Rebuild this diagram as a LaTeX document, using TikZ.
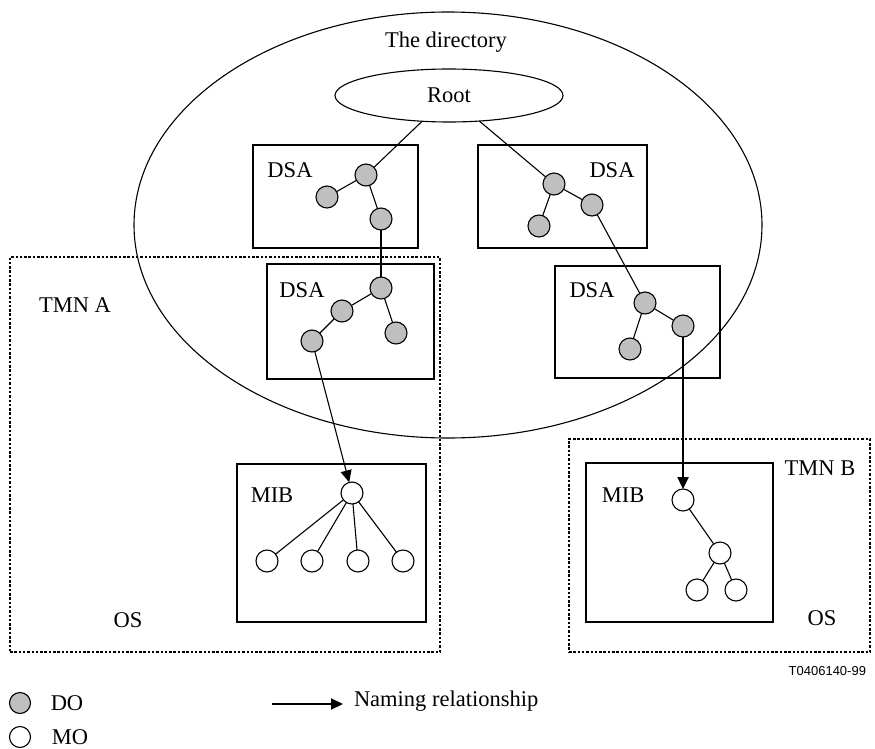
\documentclass[tikz,border=0pt]{standalone}
\usepackage{fontspec}
\setmainfont{Liberation Serif}
\newfontfamily\figsans{Liberation Sans}
\usetikzlibrary{shapes.geometric,arrows.meta}
\begin{document}
\begin{tikzpicture}[x=1pt,y=-1pt,
  line width=1.1pt,
  every node/.style={inner sep=0pt,outer sep=0pt},
  lbl/.style={font=\fontsize{22.5}{26}\selectfont},
  dobj/.style={circle,draw,fill=black!25,minimum size=22pt},
  mobj/.style={circle,draw,fill=white,minimum size=22pt},
  frame/.style={draw,rectangle},
  zone/.style={draw,rectangle,line width=2pt,dash pattern=on 2.5pt off 1.8pt},
  naming/.style={-{Triangle[length=12pt,width=11pt]}},
  link/.style={line width=1.1pt}
]
\useasboundingbox (0,0) rectangle (875,749);

% the directory
\node[draw,ellipse,minimum width=628pt,minimum height=426pt] (dir) at (448,225) {};
\node[lbl] (dirlbl) at (446,42) {The directory};
\node[draw,ellipse,minimum width=228pt,minimum height=53pt,lbl] (root) at (449,95.5) {Root};

% TMN domains
\node[zone,minimum width=430pt,minimum height=395pt] (tmna) at (225,454.5) {};
\node[lbl] (tmnalbl) at (75,305) {TMN A};
\node[lbl] (osa) at (128,620) {OS};
\node[zone,minimum width=301pt,minimum height=213pt] (tmnb) at (719.5,545.5) {};
\node[lbl] (tmnblbl) at (820,468) {TMN B};
\node[lbl] (osb) at (822,618) {OS};

% DSA boxes
\node[frame,minimum width=165pt,minimum height=103pt] (dsa1) at (335.5,196.5) {};
\node[lbl] (dsa1l) at (290,170) {DSA};
\node[frame,minimum width=169pt,minimum height=103pt] (dsa2) at (562.5,196.5) {};
\node[lbl] (dsa2l) at (612,170) {DSA};
\node[frame,minimum width=167pt,minimum height=115pt] (dsa3) at (350.5,321.5) {};
\node[lbl] (dsa3l) at (302,290) {DSA};
\node[frame,minimum width=165pt,minimum height=112pt] (dsa4) at (637.5,322) {};
\node[lbl] (dsa4l) at (592,290) {DSA};

% MIB boxes
\node[frame,minimum width=189pt,minimum height=158pt] (mib1) at (331.5,543) {};
\node[lbl] (mib1l) at (272,495) {MIB};
\node[frame,minimum width=187pt,minimum height=159pt] (mib2) at (679.5,542.5) {};
\node[lbl] (mib2l) at (623,495) {MIB};

% directory objects
\node[dobj] (a1) at (366,175) {};
\node[dobj] (a2) at (327,197) {};
\node[dobj] (a3) at (381,219) {};
\node[dobj] (b1) at (554,184) {};
\node[dobj] (b2) at (592,205) {};
\node[dobj] (b3) at (539,226) {};
\node[dobj] (d1) at (381,288) {};
\node[dobj] (d2) at (342,311) {};
\node[dobj] (d3) at (312,341) {};
\node[dobj] (d4) at (396,333) {};
\node[dobj] (c1) at (645,303) {};
\node[dobj] (c2) at (683,326) {};
\node[dobj] (c3) at (630,349) {};

% managed objects
\node[mobj] (m0) at (352,493) {};
\node[mobj] (m1) at (267,561) {};
\node[mobj] (m2) at (312,561) {};
\node[mobj] (m3) at (358,561) {};
\node[mobj] (m4) at (403,561) {};
\node[mobj] (n0) at (683,500) {};
\node[mobj] (n1) at (720,553) {};
\node[mobj] (n2) at (697,590) {};
\node[mobj] (n3) at (736,590) {};

% tree links
\draw[link] (root) -- (a1);
\draw[link] (root) -- (b1);
\draw[link] (a1) -- (a2);
\draw[link] (a1) -- (a3);
\draw[link] (a3) -- (d1);
\draw[link] (b1) -- (b2);
\draw[link] (b1) -- (b3);
\draw[link] (b2) -- (c1);
\draw[link] (d1) -- (d2);
\draw[link] (d2) -- (d3);
\draw[link] (d1) -- (d4);
\draw[link] (c1) -- (c2);
\draw[link] (c1) -- (c3);
\draw[link] (m0) -- (m1);
\draw[link] (m0) -- (m2);
\draw[link] (m0) -- (m3);
\draw[link] (m0) -- (m4);
\draw[link] (n0) -- (n1);
\draw[link] (n1) -- (n2);
\draw[link] (n1) -- (n3);

% naming relationships
\draw[naming,line width=1.1pt] (d3) -- (m0);
\draw[naming,line width=2.4pt] (c2) -- (n0);

% figure reference
\node[font=\figsans\fontsize{13}{15}\selectfont,anchor=east] (ref) at (866,671) {T0406140-99};

% legend
\node[dobj,minimum size=21pt] (keydo) at (20,703) {};
\node[lbl] (keydol) at (67,703) {DO};
\node[mobj,minimum size=21pt] (keymo) at (20,737) {};
\node[lbl] (keymol) at (70,737) {MO};
\coordinate (keyarrs) at (272,704);
\coordinate (keyarre) at (343,704);
\draw[naming,line width=2pt] (keyarrs) -- (keyarre);
\node[lbl,anchor=west] (keyarrl) at (354,701) {Naming relationship};
\end{tikzpicture}
\end{document}
